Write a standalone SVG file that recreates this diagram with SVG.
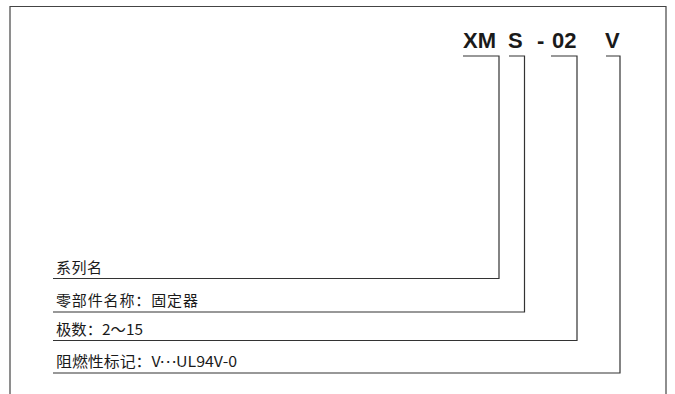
<svg xmlns="http://www.w3.org/2000/svg" width="675" height="394" viewBox="0 0 675 394">
<style>
.frame{fill:none;stroke:#444;stroke-width:1.2}
.ln{fill:none;stroke:#333;stroke-width:1.2}
.code{font-family:"Liberation Sans",Arial,sans-serif;font-weight:bold;font-size:22px;fill:#1a1a1a}
.lbl{font-family:"Noto Sans CJK SC","Noto Sans",sans-serif;font-size:15px;fill:#1a1a1a}
</style>
<rect width="675" height="394" fill="#fff"/>
<g id="frame">
<path class="frame" d="M10,394 V6.5 H666 V394"/>
</g>
<g id="code">
<text class="code" x="463" y="48">XM</text>
<text class="code" x="508" y="48">S</text>
<text class="code" x="537" y="48">-</text>
<text class="code" x="552" y="48">02</text>
<text class="code" x="605" y="48">V</text>
</g>
<g id="connectors">
<path class="ln" d="M463,56 H499 V278.5 H53"/>
<path class="ln" d="M509,56 H524.5 V312 H53"/>
<path class="ln" d="M551,56 H577 V340.5 H53"/>
<path class="ln" d="M606,56 H620 V373 H53"/>
</g>
<g id="n1"><text class="lbl" x="56" y="273" textLength="46" lengthAdjust="spacing">系列名</text></g>
<g id="n2"><text class="lbl" x="56" y="306" textLength="142" lengthAdjust="spacing">零部件名称：固定器</text></g>
<g id="n3"><text class="lbl" x="56" y="335" textLength="87" lengthAdjust="spacingAndGlyphs">极数：2～15</text></g>
<g id="n4"><text class="lbl" x="56" y="367" textLength="181" lengthAdjust="spacingAndGlyphs">阻燃性标记：V<tspan dy="-4.5">…</tspan><tspan dy="4.5">UL94V-0</tspan></text></g>
</svg>
